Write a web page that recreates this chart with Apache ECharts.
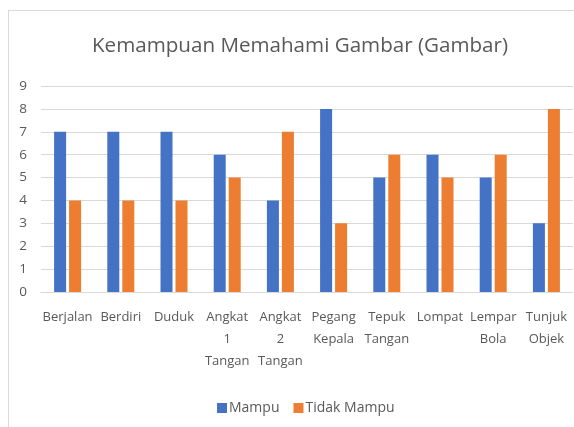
<!DOCTYPE html>
<html>
<head>
<meta charset="utf-8">
<script src="https://cdn.jsdelivr.net/npm/echarts@6/dist/echarts.min.js"></script>
<style>
html,body{margin:0;padding:0;background:#fff;}
#c{width:574px;height:427px;}
</style>
</head>
<body>
<div id="c"></div>
<script>
const categories = ["Berjalan","Berdiri","Duduk","Angkat\n1\nTangan","Angkat\n2\nTangan","Pegang\nKepala","Tepuk\nTangan","Lompat","Lempar\nBola","Tunjuk\nObjek"];
const mampu = [7,7,7,6,4,8,5,6,5,3];
const tidakMampu = [4,4,4,5,7,3,6,5,6,8];
const yTicks = {min:0,max:9,interval:1};
const titleText = "Kemampuan Memahami Gambar (Gambar)";
const seriesNames = ["Mampu","Tidak Mampu"];

const font = "'Open Sans', 'Noto Sans', sans-serif";
const chart = echarts.init(document.getElementById('c'));
chart.setOption({
  animation:false,
  backgroundColor:'#fff',
  title:{text:titleText,left:87,top:31,
    textStyle:{fontFamily:font,fontSize:20.6,fontWeight:'normal',color:'#595959'}},
  legend:{data:seriesNames,top:396,left:212,itemWidth:10,itemHeight:10,icon:'rect',itemGap:14,
    textStyle:{fontFamily:font,fontSize:14,color:'#595959',padding:[0,0,0,-3]}},
  grid:{left:41,right:1,top:86,bottom:135,containLabel:false},
  xAxis:{type:'category',data:categories,
    axisLine:{lineStyle:{color:'#d9d9d9'}},axisTick:{show:false},
    axisLabel:{interval:0,color:'#595959',fontFamily:font,fontSize:13,lineHeight:22,margin:14}},
  yAxis:{type:'value',min:yTicks.min,max:yTicks.max,interval:yTicks.interval,
    axisLine:{show:false},axisTick:{show:false},
    splitLine:{lineStyle:{color:'#d9d9d9',width:1}},
    axisLabel:{color:'#595959',fontFamily:font,fontSize:13.5,margin:14}},
  series:[
    {name:seriesNames[0],type:'bar',data:mampu,barWidth:12,barGap:'25%',itemStyle:{color:'#4472c4'}},
    {name:seriesNames[1],type:'bar',data:tidakMampu,barWidth:12,itemStyle:{color:'#ed7d31'}}
  ],
  graphic:[
    {type:'line',shape:{x1:8.5,y1:10,x2:8.5,y2:427},style:{stroke:'#d9d9d9',lineWidth:1}},
    {type:'line',shape:{x1:8,y1:10.5,x2:574,y2:10.5},style:{stroke:'#d9d9d9',lineWidth:1}}
  ]
});
</script>
</body>
</html>
